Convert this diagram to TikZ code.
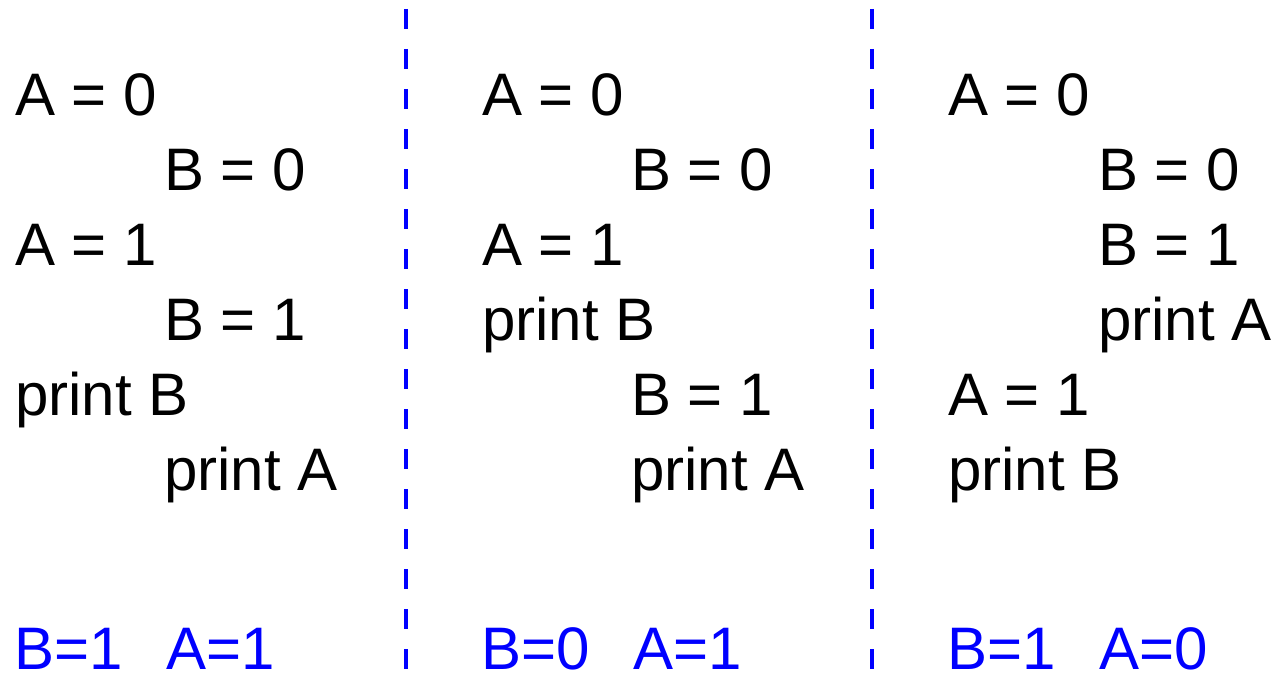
\documentclass[tikz,border=0pt]{standalone}
\usepackage{fontspec}
\setmainfont{Liberation Sans}

\begin{document}
\begin{tikzpicture}[x=0.75pt, y=-0.75pt,
    stmt/.style={anchor=base west, inner sep=0pt, font=\fontsize{45}{54}\selectfont},
    result/.style={stmt, text=blue},
    separator/.style={blue, line width=3.4pt, dash pattern=on 15pt off 15pt, dash phase=23.25pt}]
    \useasboundingbox (0,0) rectangle (1274,674);

    % Prima esecuzione
    \node[stmt] (a1) at (15,115) {A = 0};
    \node[stmt] (b1) at (164,190) {B = 0};
    \node[stmt] (a2) at (15,265) {A = 1};
    \node[stmt] (b2) at (164,340) {B = 1};
    \node[stmt] (pb1) at (15,415) {print B};
    \node[stmt] (pa1) at (164,490) {print A};
    \node[result] (r1b) at (14,669) {B=1};
    \node[result] (r1a) at (166,669) {A=1};

    % Seconda esecuzione
    \node[stmt] (a3) at (482,115) {A = 0};
    \node[stmt] (b3) at (631,190) {B = 0};
    \node[stmt] (a4) at (482,265) {A = 1};
    \node[stmt] (pb2) at (482,340) {print B};
    \node[stmt] (b4) at (631,415) {B = 1};
    \node[stmt] (pa2) at (631,490) {print A};
    \node[result] (r2b) at (481,669) {B=0};
    \node[result] (r2a) at (633,669) {A=1};

    % Terza esecuzione
    \node[stmt] (a5) at (948,115) {A = 0};
    \node[stmt] (b5) at (1098,190) {B = 0};
    \node[stmt] (b6) at (1098,265) {B = 1};
    \node[stmt] (pa3) at (1098,340) {print A};
    \node[stmt] (a6) at (948,415) {A = 1};
    \node[stmt] (pb3) at (948,490) {print B};
    \node[result] (r3b) at (947,669) {B=1};
    \node[result] (r3a) at (1099,669) {A=0};

    % Separatori
    \coordinate (s1top) at (406,0);
    \coordinate (s1bot) at (406,674);
    \coordinate (s2top) at (872,0);
    \coordinate (s2bot) at (872,674);
    \draw[separator] (s1top) -- (s1bot);
    \draw[separator] (s2top) -- (s2bot);
\end{tikzpicture}
\end{document}
